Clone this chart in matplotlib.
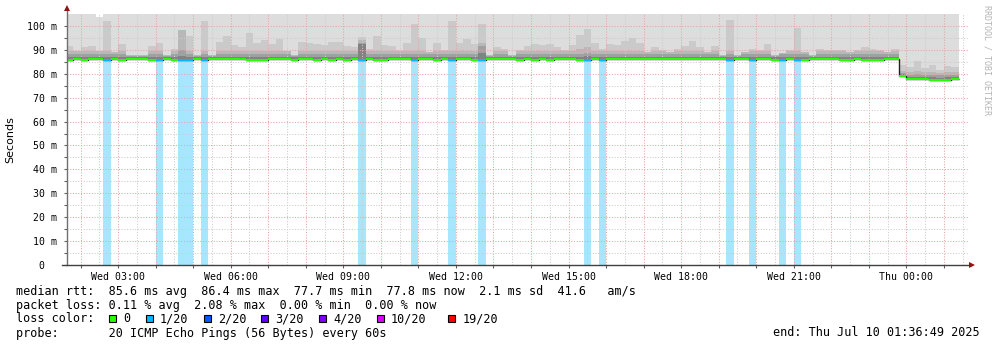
import numpy as np
import matplotlib.pyplot as plt
from matplotlib.patches import Rectangle

plt.rcParams['font.family'] = 'DejaVu Sans Mono'

W, H = 997, 347

# 12 minute bins, hours since Wed 00:00 (bin start of the first one)
t_first = 1.6
t_step = 0.2
t_view = (1.64, 25.64)

# median rtt per bin (ms)
median = [
    85.6, 86.0, 85.6, 86.0, 86.0, 85.6, 86.0, 85.6, 86.0, 86.0,
    86.0, 85.6, 85.6, 86.0, 85.6, 85.6, 85.6, 86.0, 85.6, 86.0,
    86.0, 86.0, 86.0, 86.0, 85.6, 85.6, 85.6, 86.0, 86.0, 86.0,
    85.6, 86.0, 86.0, 85.6, 86.0, 85.6, 86.0, 85.6, 86.0, 85.6,
    86.0, 85.6, 85.6, 86.0, 86.0, 86.0, 85.6, 86.0, 86.0, 85.6,
    86.0, 85.6, 86.0, 86.2, 85.6, 85.6, 86.0, 86.0, 86.0, 86.0,
    85.6, 86.0, 85.6, 86.0, 85.6, 86.0, 86.0, 86.0, 85.6, 85.6,
    86.0, 85.6, 86.0, 86.0, 86.0, 86.0, 86.0, 86.0, 86.0, 86.0,
    86.0, 86.0, 86.0, 86.0, 86.0, 86.0, 86.0, 86.0, 85.6, 86.0,
    86.0, 85.6, 86.0, 86.0, 85.6, 85.6, 86.0, 85.6, 85.6, 86.0,
    86.0, 86.0, 86.0, 85.6, 85.6, 86.0, 85.6, 85.6, 85.6, 86.0,
    86.0, 79.2, 77.8, 77.8, 77.8, 77.4, 77.4, 77.4, 77.8,
]

# lost pings per bin (out of 20)
loss = [
    0, 0, 0, 0, 0, 1, 0, 0, 0, 0,
    0, 0, 1, 0, 0, 1, 1, 0, 1, 0,
    0, 0, 0, 0, 0, 0, 0, 0, 0, 0,
    0, 0, 0, 0, 0, 0, 0, 0, 0, 1,
    0, 0, 0, 0, 0, 0, 1, 0, 0, 0,
    0, 1, 0, 0, 0, 1, 0, 0, 0, 0,
    0, 0, 0, 0, 0, 0, 0, 0, 0, 1,
    0, 1, 0, 0, 0, 0, 0, 0, 0, 0,
    0, 0, 0, 0, 0, 0, 0, 0, 1, 0,
    0, 1, 0, 0, 0, 1, 0, 1, 0, 0,
    0, 0, 0, 0, 0, 0, 0, 0, 0, 0,
    0, 0, 0, 0, 0, 0, 0, 0, 0,
]

# smoke: sorted ping rtts, outermost first (ms)
rtt_max = [
    110, 110, 110, 110, 103.9, 110, 110, 110, 110, 110,
    110, 110, 110, 110, 110, 110, 110, 110, 110, 110,
    110, 110, 110, 110, 110, 110, 110, 110, 110, 110,
    110, 110, 110, 110, 110, 110, 110, 110, 110, 110,
    110, 110, 110, 110, 110, 110, 110, 110, 110, 110,
    110, 110, 110, 110, 110, 110, 110, 110, 110, 110,
    110, 110, 110, 110, 110, 110, 110, 110, 110, 110,
    110, 110, 110, 110, 110, 110, 110, 110, 110, 110,
    110, 110, 110, 110, 110, 110, 110, 110, 110, 110,
    110, 110, 110, 110, 110, 110, 110, 110, 110, 110,
    110, 110, 110, 110, 110, 110, 110, 110, 110, 110,
    110, 110, 110, 110, 110, 110, 110, 110, 110,
]
rtt_hi2 = [
    91.6, 89.5, 91.2, 91.6, 89.5, 102.1, 89.0, 92.6, 88.0, 88.0,
    88.0, 91.6, 93.0, 88.0, 90.4, 98.5, 95.8, 88.0, 102.0, 87.7,
    93.3, 95.8, 92.0, 91.2, 97.0, 92.9, 94.1, 92.6, 94.6, 89.5,
    88.0, 93.3, 92.9, 92.6, 92.1, 93.3, 93.3, 91.6, 91.2, 95.4,
    90.4, 95.8, 92.0, 91.6, 89.8, 92.9, 100.8, 95.0, 89.0, 92.9,
    89.8, 102.1, 92.9, 94.6, 92.5, 100.8, 87.7, 91.2, 90.4, 87.7,
    89.8, 91.6, 92.5, 92.0, 92.5, 91.2, 89.8, 92.0, 96.2, 98.7,
    92.9, 90.4, 92.5, 92.0, 93.7, 95.0, 92.9, 89.0, 91.2, 89.8,
    89.0, 90.4, 91.6, 93.7, 91.2, 89.0, 91.6, 88.0, 102.5, 88.0,
    89.0, 90.4, 89.8, 92.5, 87.7, 88.7, 89.8, 99.2, 89.0, 88.0,
    90.4, 89.8, 89.8, 89.8, 89.0, 89.8, 91.2, 90.4, 89.8, 89.0,
    90.4, 83.7, 82.8, 85.4, 82.4, 83.7, 81.6, 83.3, 82.8,
]
rtt_hi3 = [
    89.4, 89.4, 89.4, 89.4, 89.4, 89.6, 89.0, 89.4, 88.0, 88.0,
    88.0, 89.4, 89.6, 88.0, 89.4, 98.5, 89.6, 88.0, 89.6, 87.7,
    89.4, 89.4, 89.4, 89.4, 89.4, 89.4, 89.4, 89.4, 89.4, 89.4,
    88.0, 89.4, 89.4, 89.4, 89.4, 89.4, 89.4, 89.4, 89.4, 94.0,
    89.4, 89.4, 89.4, 89.4, 89.4, 89.4, 89.6, 89.4, 89.0, 89.4,
    89.4, 89.6, 89.4, 89.4, 89.4, 93.0, 87.7, 89.4, 89.4, 87.7,
    89.4, 89.4, 89.4, 89.4, 89.4, 89.4, 89.4, 89.4, 90.5, 91.0,
    89.4, 89.4, 89.4, 89.4, 89.4, 89.4, 89.4, 89.0, 89.4, 89.4,
    89.0, 89.4, 89.4, 89.4, 89.4, 89.0, 89.4, 88.0, 89.6, 88.0,
    89.0, 89.4, 89.4, 89.4, 87.7, 88.7, 89.4, 89.6, 89.0, 88.0,
    89.4, 89.4, 89.4, 89.4, 89.0, 89.4, 89.4, 89.4, 89.4, 89.0,
    89.4, 81.0, 80.6, 81.0, 80.6, 80.6, 80.4, 80.6, 80.6,
]
rtt_hi4 = [
    88.3, 88.3, 88.3, 88.3, 88.3, 88.3, 88.3, 88.3, 87.6, 87.6,
    87.6, 88.3, 88.3, 87.6, 88.3, 90.0, 88.3, 87.6, 88.3, 87.4,
    88.3, 88.3, 88.3, 88.3, 88.3, 88.3, 88.3, 88.3, 88.3, 88.3,
    87.6, 88.3, 88.3, 88.3, 88.3, 88.3, 88.3, 88.3, 88.3, 93.0,
    88.3, 88.3, 88.3, 88.3, 88.3, 88.3, 88.3, 88.3, 88.3, 88.3,
    88.3, 88.3, 88.3, 88.3, 88.3, 91.6, 87.4, 88.3, 88.3, 87.4,
    88.3, 88.3, 88.3, 88.3, 88.3, 88.3, 88.3, 88.3, 88.3, 88.6,
    88.3, 88.3, 88.3, 88.3, 88.3, 88.3, 88.3, 88.3, 88.3, 88.3,
    88.3, 88.3, 88.3, 88.3, 88.3, 88.3, 88.3, 87.6, 88.3, 87.6,
    88.3, 88.3, 88.3, 88.3, 87.4, 88.3, 88.3, 88.3, 88.3, 87.6,
    88.3, 88.3, 88.3, 88.3, 88.3, 88.3, 88.3, 88.3, 88.3, 88.3,
    88.3, 80.2, 79.6, 79.8, 79.6, 79.6, 79.4, 79.6, 79.6,
]
rtt_hi5 = [
    87.2, 87.2, 87.2, 87.2, 87.2, 87.2, 87.2, 87.2, 87.0, 87.0,
    87.0, 87.2, 87.2, 87.0, 87.2, 87.4, 87.2, 87.0, 87.2, 87.0,
    87.2, 87.2, 87.2, 87.2, 87.2, 87.2, 87.2, 87.2, 87.2, 87.2,
    87.0, 87.2, 87.2, 87.2, 87.2, 87.2, 87.2, 87.2, 87.2, 92.5,
    87.2, 87.2, 87.2, 87.2, 87.2, 87.2, 87.2, 87.2, 87.2, 87.2,
    87.2, 87.2, 87.2, 87.2, 87.2, 88.5, 87.0, 87.2, 87.2, 87.0,
    87.2, 87.2, 87.2, 87.2, 87.2, 87.2, 87.2, 87.2, 87.2, 87.4,
    87.2, 87.2, 87.2, 87.2, 87.2, 87.2, 87.2, 87.2, 87.2, 87.2,
    87.2, 87.2, 87.2, 87.2, 87.2, 87.2, 87.2, 87.0, 87.2, 87.0,
    87.2, 87.2, 87.2, 87.2, 87.0, 87.2, 87.2, 87.2, 87.2, 87.0,
    87.2, 87.2, 87.2, 87.2, 87.2, 87.2, 87.2, 87.2, 87.2, 87.2,
    87.2, 79.8, 78.8, 78.8, 78.8, 78.6, 78.4, 78.6, 78.8,
]

smoke_colors = ['#dddddd', '#cacaca', '#b8b8b8', '#a0a0a0', '#828282']

loss_steps = [0, 1, 2, 3, 4, 10, 19]
loss_labels = ['0', '1/20', '2/20', '3/20', '4/20', '10/20', '19/20']
loss_colors = ['#26ff00', '#00b8ff', '#0059ff', '#5e00ff', '#7e00ff', '#dd00ff', '#ff0000']

hour_ticks = [3, 6, 9, 12, 15, 18, 21, 24]
hour_labels = ['Wed 03:00', 'Wed 06:00', 'Wed 09:00', 'Wed 12:00',
               'Wed 15:00', 'Wed 18:00', 'Wed 21:00', 'Thu 00:00']
ms_ticks = [0, 10, 20, 30, 40, 50, 60, 70, 80, 90, 100]

median = np.array(median)
loss = np.array(loss)
edges = t_first + t_step * np.arange(len(median) + 1)

fig = plt.figure(figsize=(W / 100, H / 100), dpi=100)
ax = fig.add_axes([67 / W, 1 - 265 / H, 901 / W, 251 / H])
ax.set_xlim(*t_view)
ax.set_ylim(0, 105)

# smoke layers, each one from the median up
for top, col in zip([rtt_max, rtt_hi2, rtt_hi3, rtt_hi4, rtt_hi5], smoke_colors):
    ax.stairs(np.array(top), edges, baseline=median, fill=True, color=col,
              linewidth=0, zorder=1)

# loss bars from zero up to the median
lossy = np.where(loss > 0, median - 0.4, np.nan)
ax.stairs(lossy, edges, baseline=0, fill=True, color='#a8e6ff', linewidth=0, zorder=1.5)

# grid
red_grid = dict(color='#e6a4a4', lw=0.75, ls=(0, (1, 1.6)), zorder=2)
grey_grid = dict(color='#cccccc', lw=0.75, ls=(0, (1, 1.6)), zorder=2)
for h in np.arange(2, 26):
    ax.axvline(h, **red_grid)
    ax.axvline(h - 0.5, **grey_grid)
ax.axvline(25.5, **grey_grid)
for v in ms_ticks[1:]:
    ax.axhline(v, **red_grid)
    ax.axhline(v - 5, **grey_grid)

# median line, coloured by loss
ax.stairs(median, edges, baseline=None, color='#202020', lw=1.0, zorder=2.5)
for step, col in zip(loss_steps, loss_colors):
    band = np.where(loss == step, median + 0.45, np.nan)
    if np.all(np.isnan(band)):
        continue
    ax.stairs(band, edges, baseline=median - 0.45, fill=True, color=col,
              linewidth=0, zorder=3)

for s in ax.spines.values():
    s.set_visible(False)

# axis lines with arrow heads
ax.plot([t_view[0], t_view[0]], [0, 107], color='#707070', lw=1, clip_on=False, zorder=4)
ax.plot([t_view[0] - 0.12, t_view[1] + 0.08], [0, 0], color='#404040', lw=1,
        clip_on=False, zorder=4)
ax.plot([t_view[0]], [107.6], marker='^', ms=4.5, color='#8b1414', clip_on=False,
        zorder=5, markeredgewidth=0)
ax.plot([t_view[1] + 0.1], [0], marker='>', ms=4.5, color='#8b1414', clip_on=False,
        zorder=5, markeredgewidth=0)

ax.set_xticks(hour_ticks)
ax.set_xticklabels(hour_labels, fontsize=7.1)
ax.set_xticks(np.arange(2, 26), minor=True)
ax.set_yticks(ms_ticks)
ax.set_yticklabels(['0  '] + ['%d m' % v for v in ms_ticks[1:]], fontsize=7.1)
ax.set_yticks(np.arange(5, 105, 10), minor=True)
ax.tick_params(axis='x', which='both', length=2, width=0.8, color='#606060', pad=3)
ax.tick_params(axis='y', which='both', length=2, width=0.8, color='#606060', pad=5)

fig.text(10 / W, 1 - 140 / H, 'Seconds', rotation=90, fontsize=8, ha='center',
         va='center', family='DejaVu Sans')
fig.text(987 / W, 1 - 60 / H, 'RRDTOOL / TOBI OETIKER', rotation=270, fontsize=6,
         color='#b4b4b4', ha='center', va='center')

# legend block
fs = 8.5
def line(y, txt, x=16, **kw):
    fig.text(x / W, 1 - y / H, txt, fontsize=fs, va='center', **kw)

line(291, 'median rtt:  85.6 ms avg  86.4 ms max  77.7 ms min  77.8 ms now  2.1 ms sd  41.6   am/s')
line(305, 'packet loss: 0.11 % avg  2.08 % max  0.00 % min  0.00 % now')
line(319, 'loss color:')
box_x = [108.5, 145.5, 203.5, 261, 319, 376.5, 448]
for bx, lab, col in zip(box_x, loss_labels, loss_colors):
    fig.patches.append(Rectangle((bx / W, 1 - 322 / H), 7 / W, 7 / H, facecolor=col,
                                 edgecolor='black', lw=0.8, transform=fig.transFigure))
    line(319, lab, x=bx + 14.5)
line(333, 'probe:       20 ICMP Echo Pings (56 Bytes) every 60s')
line(333, 'end: Thu Jul 10 01:36:49 2025', x=980, ha='right')

fig.savefig('out.png', dpi=100)
